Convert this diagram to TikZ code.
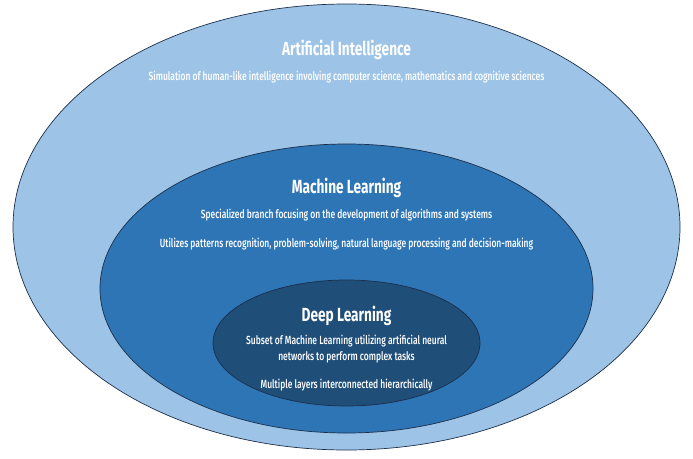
\documentclass[tikz,border=0pt]{standalone}
\usepackage{fontspec}
\setmainfont{Fira Sans}[FakeStretch=0.72]
\newfontfamily\blurbfont{Fira Sans Medium}[FakeStretch=0.72]
\definecolor{aiblue}{HTML}{9DC3E6}
\definecolor{mlblue}{HTML}{2E75B6}
\definecolor{dlblue}{HTML}{1F4E79}
\definecolor{rimline}{HTML}{1C2F4A}
\tikzset{
  rim/.style={draw=rimline, line width=0.7pt},
  heading/.style={text=white, font=\bfseries\fontsize{19}{22}\selectfont, inner sep=0pt},
  blurb/.style={text=white, font=\blurbfont\fontsize{11.8}{16}\selectfont, align=center, inner sep=0pt},
}
\begin{document}
\begin{tikzpicture}[x=1pt, y=-1pt]
  \useasboundingbox (0,0) rectangle (693,458);
  % nested fields
  \draw[rim, fill=aiblue] (346.5,227) ellipse [x radius=333.5, y radius=223];
  \draw[rim, fill=mlblue] (346.5,288.5) ellipse [x radius=246.5, y radius=144.5];
  \draw[rim, fill=dlblue] (346.5,343) ellipse [x radius=133.5, y radius=63];
  % labels
  \node[heading] (ai) at (346.5,50) {Artificial Intelligence};
  \node[blurb] (aitext) at (346.5,77) {Simulation of human-like intelligence involving computer science, mathematics and cognitive sciences};
  \node[heading] (ml) at (346.5,188) {Machine Learning};
  \node[blurb] (mltext) at (346.5,215) {Specialized branch focusing on the development of algorithms and systems};
  \node[blurb] (mluse) at (346.5,244) {Utilizes patterns recognition, problem-solving, natural language processing and decision-making};
  \node[heading] (dl) at (346.5,316) {Deep Learning};
  \node[blurb] (dltext) at (346.5,349) {Subset of Machine Learning utilizing artificial neural\\networks to perform complex tasks};
  \node[blurb] (dluse) at (346.5,385) {Multiple layers interconnected hierarchically};
\end{tikzpicture}
\end{document}
